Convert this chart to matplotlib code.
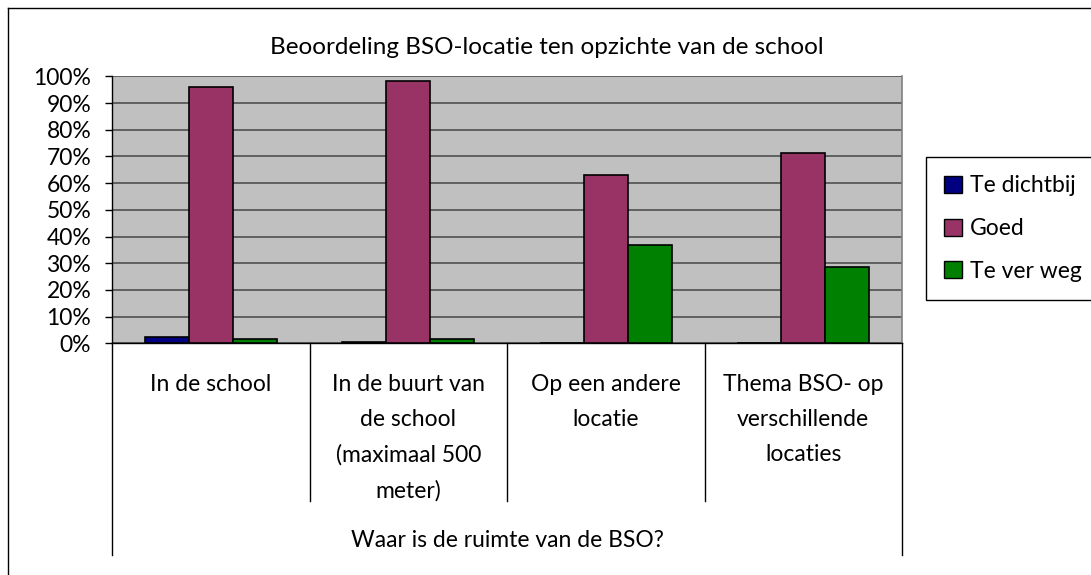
import numpy as np
import matplotlib.pyplot as plt
from matplotlib.patches import Patch
from matplotlib.lines import Line2D

plt.rcParams['font.family'] = ['Lato', 'DejaVu Sans']

# data
categories = ['In de school',
              'In de buurt van\nde school\n(maximaal 500\nmeter)',
              'Op een andere\nlocatie',
              'Thema BSO- op\nverschillende\nlocaties']
series_names = ['Te dichtbij', 'Goed', 'Te ver weg']
te_dichtbij = [2.5, 0.5, 0.0, 0.0]
goed = [96.1, 98.2, 63.0, 71.4]
te_ver_weg = [1.6, 1.6, 36.9, 28.6]
colors = ['#000080', '#993366', '#008000']
yticks = np.arange(0, 101, 10)

W, H = 1091, 575
fig = plt.figure(figsize=(W / 100, H / 100), dpi=100)
ax = fig.add_axes([112 / W, 1 - 343.3 / H, 790 / W, 267 / H])
ax.set_facecolor('#C0C0C0')

x = np.arange(len(categories))
bw = 1 / 4.5
for i, (vals, name) in enumerate(zip([te_dichtbij, goed, te_ver_weg], series_names)):
    ax.bar(x + (i - 1) * bw, vals, bw, color=colors[i], edgecolor='black',
           linewidth=1.2, label=name, zorder=3)

ax.set_xlim(-0.5, len(categories) - 0.5)
ax.set_ylim(0, 100)
ax.set_yticks(yticks)
ax.set_yticklabels(['%d%%' % v for v in yticks], fontsize=16.5)
ax.yaxis.grid(True, color='#505050', linewidth=1.2, zorder=1)
ax.set_axisbelow(True)
ax.tick_params(axis='y', length=5, width=1, direction='out', pad=10)

ax.set_xticks(x)
ax.set_xticklabels(categories, fontsize=16.5, linespacing=1.82, va='top')
ax.tick_params(axis='x', length=0, pad=22)

for s in ['left', 'bottom']:
    ax.spines[s].set_color('black')
    ax.spines[s].set_linewidth(1)
ax.spines['top'].set_visible(False)
ax.spines['right'].set_color('#808080')
ax.spines['right'].set_linewidth(1.2)

# category separators below the axis
trans = ax.get_xaxis_transform()
for xs in np.arange(-0.5, len(categories), 1.0):
    lo = -0.793 if xs in (-0.5, len(categories) - 0.5) else -0.589
    ax.plot([xs, xs], [0, lo], color='black', linewidth=1, transform=trans, clip_on=False)

ax.text(0.5, -0.737, 'Waar is de ruimte van de BSO?', transform=ax.transAxes,
        ha='center', va='center', fontsize=16.5)

fig.text(547 / W, 1 - 48 / H, 'Beoordeling BSO-locatie ten opzichte van de school',
         ha='center', va='center', fontsize=17.5)

handles = [Patch(facecolor=c, edgecolor='black', label=n) for c, n in zip(colors, series_names)]
leg = fig.legend(handles=handles, loc='upper left', bbox_to_anchor=(926 / W, 1 - 157 / H),
                 fontsize=16.5, frameon=True, fancybox=False, framealpha=1, edgecolor='black',
                 handlelength=0.75, handleheight=0.75, handletextpad=0.35, labelspacing=0.95,
                 borderpad=0.8, borderaxespad=0)
leg.get_frame().set_linewidth(1)

# outer chart frame
fig.add_artist(Line2D([8 / W, 1], [1 - 8 / H, 1 - 8 / H], color='black', linewidth=1))
fig.add_artist(Line2D([8 / W, 8 / W], [0, 1 - 8 / H], color='black', linewidth=1))

fig.savefig('out.png', dpi=100)
